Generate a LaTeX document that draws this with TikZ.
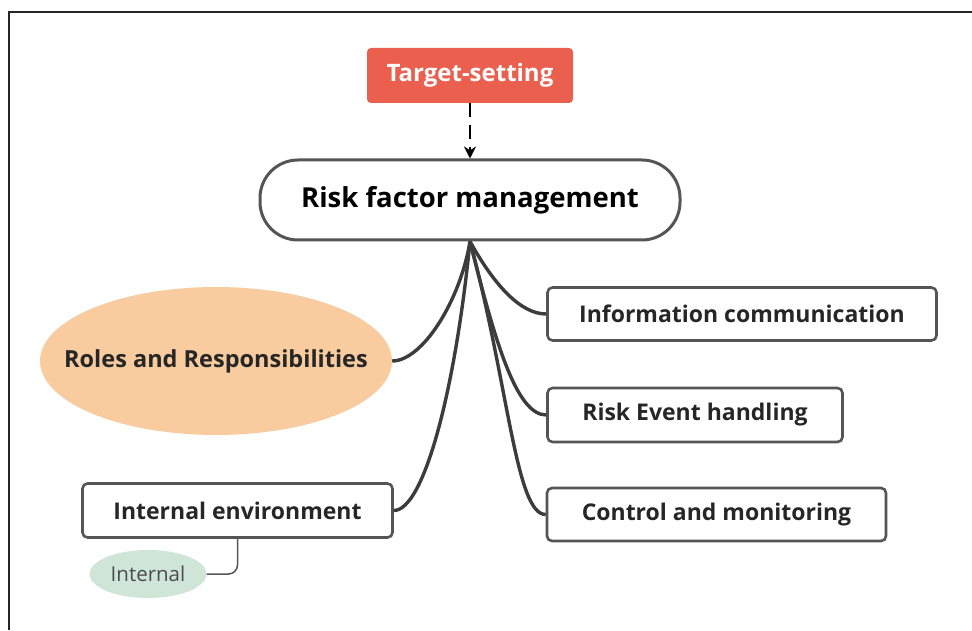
\documentclass[tikz,border=0pt]{standalone}
\usepackage{fontspec}
\setmainfont{Open Sans}
\usetikzlibrary{arrows.meta, shapes.geometric}

\definecolor{targetred}{HTML}{EA5F4E}
\definecolor{rolepeach}{HTML}{F8CC9E}
\definecolor{paleleaf}{HTML}{CFE5D7}
\definecolor{branchgray}{HTML}{3C3C3C}
\definecolor{boxgray}{HTML}{555555}

\tikzset{
  topic/.style = {draw=boxgray, line width=2.6pt, rounded corners=5pt, inner sep=0pt,
                  text=black!85, font=\fontsize{23}{27}\selectfont\bfseries},
  branch/.style = {draw=branchgray, line width=3.4pt},
}

\begin{document}
\begin{tikzpicture}[x=1pt, y=1pt, >={Stealth[length=12pt, width=12pt]}]
\useasboundingbox (0,0) rectangle (972,630);
\draw[line width=2pt, black!85] (9,0) -- (9,618) -- (972,618);

\node[fill=targetred, rounded corners=4pt, minimum width=206pt, minimum height=55pt, inner sep=0pt,
      text=white, font=\fontsize{24}{28}\selectfont\bfseries] (target) at (470,554.5) {Target-setting};
\node[draw=boxgray, line width=3pt, rounded corners=38pt, minimum width=420pt, minimum height=80pt,
      inner sep=0pt, font=\fontsize{27.5}{32}\selectfont\bfseries] (main) at (470,430) {Risk factor management};
\path (target) edge [->, line width=2.6pt, dash pattern=on 14pt off 8pt] (main);

% negative xsep keeps the ellipse at its minimum size around the long label
\node[ellipse, fill=rolepeach, minimum width=352pt, minimum height=148pt, inner xsep=-80pt, inner ysep=0pt,
      text=black!85, font=\fontsize{23.5}{28}\selectfont\bfseries] (roles) at (216,269) {Roles and Responsibilities};
\node[topic, minimum width=389pt, minimum height=53pt] (info) at (742,316) {Information communication};
\node[topic, minimum width=295pt, minimum height=54pt] (event) at (695,215) {Risk Event handling};
\node[topic, minimum width=339pt, minimum height=53pt] (control) at (716.5,115.5) {Control and monitoring};
\node[topic, minimum width=310pt, minimum height=54pt] (intenv) at (237.5,119.5) {Internal environment};
\node[ellipse, fill=paleleaf, minimum width=117pt, minimum height=48pt, inner sep=0pt,
      text=black!70, font=\fontsize{20.5}{24}\selectfont] (internal) at (148,56) {Internal};

% branches fanning out of the bottom of the central topic
\draw[branch] (main.south) .. controls +(-10,-60) and +(30,0) .. (roles.east);
\draw[branch] (main.south) .. controls +(25,-45) and +(-25,0) .. (info.west);
\draw[branch] (main.south) .. controls +(25,-100) and +(-30,0) .. (event.west);
\draw[branch] (main.south) .. controls +(39,-145) and +(-30,0) .. (control.west);
\draw[branch] (main.south) .. controls +(-15,-150) and +(30,0) .. (intenv.east);
\draw[boxgray, line width=1.5pt, rounded corners=9pt] (intenv.south) |- (internal.east);
\end{tikzpicture}
\end{document}
